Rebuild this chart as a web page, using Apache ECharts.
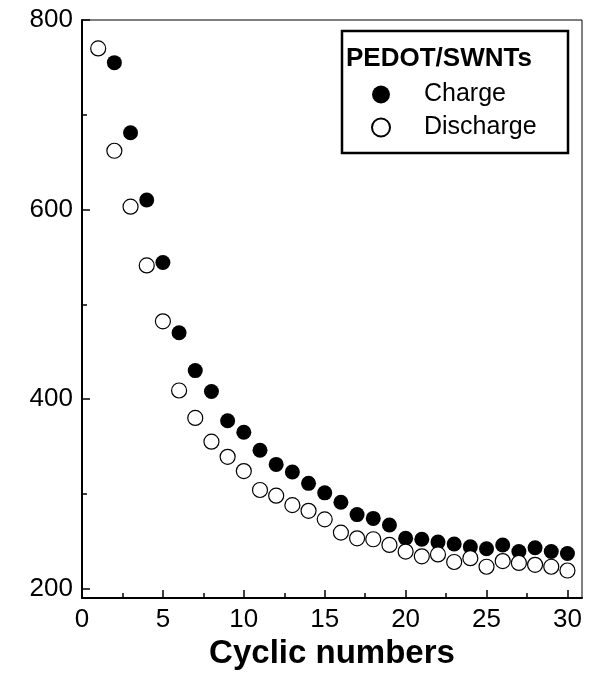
<!DOCTYPE html>
<html>
<head>
<meta charset="utf-8">
<script src="https://cdn.jsdelivr.net/npm/echarts@6/dist/echarts.min.js"></script>
<style>
  html, body { margin: 0; padding: 0; background: #fff; }
  #chart { width: 595px; height: 679px; }
</style>
</head>
<body>
<div id="chart"></div>
<script>
const FONT = "'Liberation Sans', Arial, sans-serif";

// cycle numbers and capacities
const chargeCycles = [2, 3, 4, 5, 6, 7, 8, 9, 10, 11, 12, 13, 14, 15, 16, 17, 18, 19, 20, 21, 22, 23, 24, 25, 26, 27, 28, 29, 30];
const chargeValues = [755, 681, 610, 544, 470, 430, 408, 377, 365, 346, 331, 323, 311, 301, 291, 278, 274, 267, 253, 252, 249, 247, 244, 242, 246, 239, 243, 239, 237];

const dischargeCycles = [1, 2, 3, 4, 5, 6, 7, 8, 9, 10, 11, 12, 13, 14, 15, 16, 17, 18, 19, 20, 21, 22, 23, 24, 25, 26, 27, 28, 29, 30];
const dischargeValues = [770, 662, 603, 541, 482, 409, 380, 355, 339, 324, 304, 298, 288, 282, 273, 259, 253, 252, 246, 239, 234, 236, 228, 232, 223, 229, 227, 225, 223, 219];

// ticks
const xMajorTicks = [0, 5, 10, 15, 20, 25, 30];
const xMinorTicks = [2.5, 7.5, 12.5, 17.5, 22.5, 27.5];
const yMajorTicks = [200, 400, 600, 800];
const yMinorTicks = [300, 500, 700];

const legendTitle = 'PEDOT/SWNTs';
const xTitle = 'Cyclic numbers';

const pairs = (xs, ys) => xs.map((x, i) => [x, ys[i]]);

const chart = echarts.init(document.getElementById('chart'), null, { renderer: 'canvas' });

const X_MIN = 0, X_MAX = 30.9;
const Y_MIN = 190, Y_MAX = 800;

chart.setOption({
  animation: false,
  backgroundColor: '#fff',
  grid: {
    left: 82, right: 13, top: 20, bottom: 81,
    show: true,
    borderColor: '#000',
    borderWidth: 1,
  },
  xAxis: [
    {
      type: 'value', min: X_MIN, max: X_MAX,
      name: xTitle,
      nameLocation: 'middle',
      nameGap: 38,
      nameTextStyle: { fontFamily: FONT, fontSize: 33, fontWeight: 'bold', color: '#000' },
      axisLine: { lineStyle: { color: '#000', width: 2 } },
      axisTick: { inside: true, length: 8, lineStyle: { color: '#000', width: 1.5 }, customValues: xMajorTicks },
      axisLabel: { margin: 9, fontFamily: FONT, fontSize: 26, color: '#000', customValues: xMajorTicks },
      splitLine: { show: false },
    },
    {
      type: 'value', min: X_MIN, max: X_MAX, position: 'bottom',
      axisLine: { show: false },
      axisTick: { inside: true, length: 5, lineStyle: { color: '#000', width: 1.5 }, customValues: xMinorTicks },
      axisLabel: { show: false },
      splitLine: { show: false },
    },
  ],
  yAxis: [
    {
      type: 'value', min: Y_MIN, max: Y_MAX,
      axisLine: { show: true, lineStyle: { color: '#000', width: 2 } },
      axisTick: { show: true, inside: true, length: 8, lineStyle: { color: '#000', width: 1.5 }, customValues: yMajorTicks },
      axisLabel: { margin: 9, fontFamily: FONT, fontSize: 26, color: '#000', customValues: yMajorTicks },
      splitLine: { show: false },
    },
    {
      type: 'value', min: Y_MIN, max: Y_MAX, position: 'left',
      axisLine: { show: false },
      axisTick: { show: true, inside: true, length: 5, lineStyle: { color: '#000', width: 1.5 }, customValues: yMinorTicks },
      axisLabel: { show: false },
      splitLine: { show: false },
    },
  ],
  legend: {
    orient: 'vertical',
    left: 371,
    top: 82,
    padding: 0,
    itemWidth: 18,
    itemHeight: 18,
    itemGap: 8,
    icon: 'circle',
    textStyle: { fontFamily: FONT, fontSize: 25, color: '#000', padding: [0, 0, 0, 29] },
    data: ['Charge', 'Discharge'],
  },
  graphic: [
    {
      type: 'rect',
      shape: { x: 342, y: 31, width: 226, height: 122 },
      style: { fill: 'transparent', stroke: '#000', lineWidth: 2.5 },
      z: 10,
    },
    {
      type: 'text',
      x: 346, y: 59,
      style: {
        text: legendTitle,
        font: `bold 26px ${FONT}`,
        fill: '#000',
        verticalAlign: 'middle',
      },
      z: 10,
    },
  ],
  series: [
    {
      name: 'Charge',
      type: 'scatter',
      symbol: 'circle',
      symbolSize: 15,
      itemStyle: { color: '#000', opacity: 1 },
      data: pairs(chargeCycles, chargeValues),
      z: 2,
    },
    {
      // open circles sit on top of the filled ones where they overlap
      name: 'Discharge',
      type: 'scatter',
      symbol: 'circle',
      symbolSize: 15,
      itemStyle: { color: '#fff', borderColor: '#000', borderWidth: 1.2, opacity: 1 },
      data: pairs(dischargeCycles, dischargeValues),
      z: 3,
    },
  ],
});
</script>
</body>
</html>
